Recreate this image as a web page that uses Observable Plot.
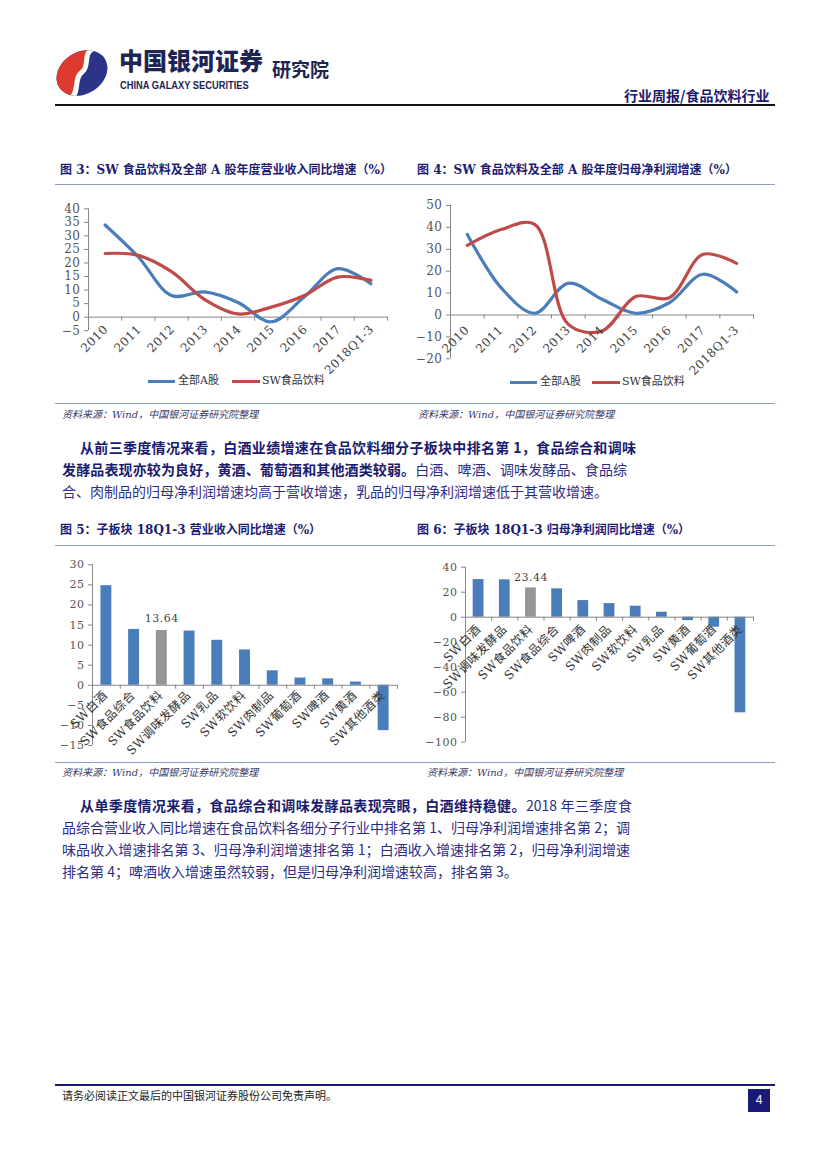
<!DOCTYPE html>
<html><head><meta charset="utf-8">
<script src="https://cdn.jsdelivr.net/npm/d3@7"></script>
<script src="https://cdn.jsdelivr.net/npm/@observablehq/plot@0.6"></script>
<style>
body{margin:0;background:#fff;}
#page{position:relative;width:827px;height:1169px;overflow:hidden;font-family:"Noto Sans CJK SC",sans-serif;background:#fff;}
.abs{position:absolute;white-space:nowrap;}
.title{position:absolute;white-space:nowrap;font-family:"DejaVu Serif","Noto Sans CJK SC",serif;font-size:12px;line-height:16px;font-weight:bold;color:#1c1c72;}
.src{position:absolute;white-space:nowrap;font-family:"DejaVu Serif","Noto Sans CJK SC",serif;font-size:10px;line-height:14px;font-style:italic;color:#3a3a66;}
.hr{position:absolute;height:0;border-top:1.6px solid #8a9dbd;}
.para{position:absolute;white-space:nowrap;font-size:14px;line-height:22px;color:#2d2d88;font-family:"Noto Sans CJK SC",sans-serif;}
.para b{color:#1a1a6e;}
.just{text-align:justify;text-align-last:justify;}
.chart{position:absolute;}
.chart svg{overflow:visible;}
.chart text{letter-spacing:0.5px;}
.leg{position:absolute;height:3px;}
.legt{position:absolute;white-space:nowrap;font-family:"DejaVu Serif","Noto Sans CJK SC",serif;font-size:11px;line-height:14px;color:#333;}
</style></head><body><div id="page">

<svg class="abs" style="left:55px;top:47px" width="54" height="52" viewBox="0 0 54 52">
  <defs>
    <clipPath id="lg"><ellipse cx="27" cy="26" rx="27" ry="21" transform="rotate(-32 27 26)"/></clipPath>
  </defs>
  <g clip-path="url(#lg)">
    <rect x="-5" y="-5" width="64" height="62" fill="#2c3487"/>
    <path d="M-5,-5 L40,-5 L40,1 C26,6 36,18 27,25 C18,32 26,42 15,54 L-5,57 Z" fill="#dc3a2f"/>
    <path d="M40,1 C26,6 36,18 27,25 C18,32 26,42 15,54" fill="none" stroke="#fff" stroke-width="5"/>
  </g>
</svg>
<div class="abs" style="left:119px;top:44px;font-size:24px;line-height:32px;font-weight:900;color:#1e2552;letter-spacing:0px">中国银河证券</div>
<div class="abs" style="left:120px;top:80px;font-family:'Liberation Sans',Arial,sans-serif;font-size:10px;line-height:12px;font-weight:bold;color:#1e2552;transform:scaleX(0.93);transform-origin:left">CHINA GALAXY SECURITIES</div>
<div class="abs" style="left:272px;top:57px;font-size:19px;line-height:24px;font-weight:bold;color:#1e2552">研究院</div>
<div class="abs" style="left:624px;top:86px;font-size:14px;line-height:18px;font-weight:bold;color:#1a1a6e">行业周报/食品饮料行业</div>
<div class="hr" style="left:55px;top:104px;width:720px;border-top:2px solid #111"></div>

<div class="title" style="left:60px;top:162px">图 3：SW 食品饮料及全部 A 股年度营业收入同比增速（%）</div>
<div class="title" style="left:417px;top:162px">图 4：SW 食品饮料及全部 A 股年度归母净利润增速（%）</div>
<div class="hr" style="left:55px;top:184px;width:720px"></div>

<div class="chart" id="c3" style="left:55px;top:195px;width:345px;height:180px"></div>
<div class="chart" id="c4" style="left:410px;top:195px;width:375px;height:185px"></div>

<div class="leg" style="left:148px;top:380px;width:27px;background:#4a7ebb"></div>
<div class="legt" style="left:178px;top:374px" id="l3a"></div>
<div class="leg" style="left:232px;top:380px;width:28px;background:#be4b48"></div>
<div class="legt" style="left:262px;top:374px" id="l3b"></div>
<div class="leg" style="left:510px;top:381px;width:27px;background:#4a7ebb"></div>
<div class="legt" style="left:540px;top:375px" id="l4a"></div>
<div class="leg" style="left:592px;top:381px;width:28px;background:#be4b48"></div>
<div class="legt" style="left:622px;top:375px" id="l4b"></div>

<div class="hr" style="left:55px;top:403px;width:720px"></div>
<div class="src" style="left:62px;top:408px">资料来源：Wind，中国银河证券研究院整理</div>
<div class="src" style="left:418px;top:408px">资料来源：Wind，中国银河证券研究院整理</div>

<div class="para just" style="left:80px;top:436px;width:556px"><b>从前三季度情况来看，白酒业绩增速在食品饮料细分子板块中排名第 1，食品综合和调味</b></div>
<div class="para just" style="left:62px;top:458px;width:565px"><b>发酵品表现亦较为良好，黄酒、葡萄酒和其他酒类较弱。</b>白酒、啤酒、调味发酵品、食品综</div>
<div class="para" style="left:62px;top:480px">合、肉制品的归母净利润增速均高于营收增速，乳品的归母净利润增速低于其营收增速。</div>

<div class="title" style="left:60px;top:522px">图 5：子板块 18Q1-3 营业收入同比增速（%）</div>
<div class="title" style="left:417px;top:522px">图 6：子板块 18Q1-3 归母净利润同比增速（%）</div>
<div class="hr" style="left:55px;top:545px;width:720px"></div>

<div class="chart" id="c5" style="left:55px;top:550px;width:350px;height:210px"></div>
<div class="chart" id="c6" style="left:410px;top:550px;width:375px;height:210px"></div>

<div class="hr" style="left:55px;top:762px;width:720px"></div>
<div class="src" style="left:62px;top:766px">资料来源：Wind，中国银河证券研究院整理</div>
<div class="src" style="left:427px;top:766px">资料来源：Wind，中国银河证券研究院整理</div>

<div class="para just" style="left:80px;top:794px;width:552px"><b>从单季度情况来看，食品综合和调味发酵品表现亮眼，白酒维持稳健。</b>2018 年三季度食</div>
<div class="para just" style="left:62px;top:816px;width:568px">品综合营业收入同比增速在食品饮料各细分子行业中排名第 1、归母净利润增速排名第 2；调</div>
<div class="para just" style="left:62px;top:838px;width:568px">味品收入增速排名第 3、归母净利润增速排名第 1；白酒收入增速排名第 2，归母净利润增速</div>
<div class="para" style="left:62px;top:860px">排名第 4；啤酒收入增速虽然较弱，但是归母净利润增速较高，排名第 3。</div>

<div class="hr" style="left:55px;top:1084px;width:720px;border-top:2px solid #1a1a6e"></div>
<div class="abs" style="left:62px;top:1090px;font-family:'DejaVu Serif','Noto Sans CJK SC',serif;font-size:11px;line-height:14px;color:#222">请务必阅读正文最后的中国银河证券股份公司免责声明。</div>
<div class="abs" style="left:748px;top:1089px;width:22px;height:23px;background:#1a1a78;color:#fff;font-family:'Liberation Sans',sans-serif;font-size:12px;line-height:23px;text-align:center">4</div>

</div>
<script>
// ---- data ----
const years = ["2010","2011","2012","2013","2014","2015","2016","2017","2018Q1-3"];
const seriesNames = ["全部A股","SW食品饮料"];
const revAllA = [34, 22.2, 8, 9.3, 5.4, -1.7, 7.5, 17.9, 12.3];
const revSW = [23.5, 22.8, 16.8, 6.5, 1.2, 3.7, 8, 14.8, 13.6];
const profitAllA = [36.8, 12.5, 0.8, 14.5, 7.2, 0.8, 5.6, 18.6, 10.5];
const profitSW = [31.8, 39, 41.4, -4.3, -7.3, 8.4, 7.9, 27.7, 23.6];
const revCats = ["SW白酒","SW食品综合","SW食品饮料","SW调味发酵品","SW乳品","SW软饮料","SW肉制品","SW葡萄酒","SW啤酒","SW黄酒","SW其他酒类"];
const revVals = [24.8, 13.9, 13.64, 13.5, 11.2, 8.8, 3.6, 1.8, 1.6, 0.8, -11.3];
const profitCats = ["SW白酒","SW调味发酵品","SW食品饮料","SW食品综合","SW啤酒","SW肉制品","SW软饮料","SW乳品","SW黄酒","SW葡萄酒","SW其他酒类"];
const profitVals = [30.1, 29.9, 23.44, 22.7, 13.3, 10.9, 8.8, 4, -2.7, -8, -76.5];
const highlight = "SW食品饮料";
const ticks3 = [-5,0,5,10,15,20,25,30,35,40];
const ticks4 = [-20,-10,0,10,20,30,40,50];
const ticks5 = [-15,-10,-5,0,5,10,15,20,25,30];
const ticks6 = [-100,-80,-60,-40,-20,0,20,40];

const BLUE = "#4a7ebb", RED = "#be4b48", GRAY = "#969696", AX = "#868686";
const fmt = d => d < 0 ? "\u2212" + (-d) : String(d);
["l3a","l4a"].forEach(id => document.getElementById(id).textContent = seriesNames[0]);
["l3b","l4b"].forEach(id => document.getElementById(id).textContent = seriesNames[1]);

function lineChart(o) {
  const n = o.cats.length;
  const rows = [];
  o.cats.forEach((c, i) => {
    rows.push({i, c, v: o.a[i], s: seriesNames[0]});
    rows.push({i, c, v: o.b[i], s: seriesNames[1]});
  });
  const ymin = o.ticks[0], ymax = o.ticks[o.ticks.length - 1];
  return Plot.plot({
    width: o.width, height: o.height,
    marginTop: o.mt, marginBottom: o.mb, marginLeft: o.ml, marginRight: o.mr,
    x: {type: "linear", domain: [0, n], axis: null},
    y: {domain: [ymin, ymax], axis: null},
    color: {domain: seriesNames, range: [BLUE, RED]},
    style: {fontFamily: "DejaVu Serif", fontSize: "12px", color: "#555", background: "transparent"},
    marks: [
      Plot.ruleY([0], {stroke: AX}),
      Plot.ruleX([0], {y1: ymin, y2: ymax, stroke: AX}),
      Plot.ruleX(d3.range(n + 1), {x: d => d, y1: () => 0, y2: () => -o.tick, stroke: AX}),
      Plot.axisY({ticks: o.ticks, tickSize: 4, tickPadding: 4, tickFormat: fmt, label: null, stroke: AX, fontSize: 12}),
      Plot.line(rows, {x: d => d.i + 0.5, y: "v", stroke: "s", z: "s", curve: "catmull-rom", strokeWidth: 3.2}),
      Plot.text(o.cats, {x: (d, i) => i + 0.5, y: () => 0, text: d => d, rotate: -45, textAnchor: "end", dx: o.dx, dy: o.dy, fontSize: 12, fill: "#444"})
    ]
  });
}

function barChart(o) {
  const n = o.cats.length;
  const rows = o.cats.map((c, i) => ({i, c, v: o.vals[i]}));
  const ymin = o.ticks[0], ymax = o.ticks[o.ticks.length - 1];
  return Plot.plot({
    width: o.width, height: o.height,
    marginTop: o.mt, marginBottom: o.mb, marginLeft: o.ml, marginRight: o.mr,
    x: {type: "linear", domain: [0, n], axis: null},
    y: {domain: [ymin, ymax], axis: null},
    style: {fontFamily: "DejaVu Serif", fontSize: "10px", color: "#555", background: "transparent"},
    marks: [
      Plot.rect(rows.filter(d => d.c !== highlight), {x1: d => d.i, x2: d => d.i + 1, y1: () => 0, y2: d => d.v, fill: BLUE, insetLeft: o.inset, insetRight: o.inset}),
      Plot.rect(rows.filter(d => d.c === highlight), {x1: d => d.i, x2: d => d.i + 1, y1: () => 0, y2: d => d.v, fill: GRAY, insetLeft: o.inset, insetRight: o.inset}),
      Plot.ruleY([0], {stroke: AX}),
      Plot.ruleX([0], {y1: ymin, y2: ymax, stroke: AX}),
      Plot.ruleX(d3.range(n + 1), {x: d => d, y1: () => 0, y2: () => -o.tick, stroke: AX}),
      Plot.axisY({ticks: o.ticks, tickSize: 4, tickPadding: 4, tickFormat: fmt, label: null, stroke: AX, fontSize: 11}),
      Plot.text(rows.filter(d => d.c === highlight), {x: d => d.i + 0.5, y: d => d.v, text: d => d.v.toFixed(2), dy: o.ldy, fontSize: 11, fill: "#444"}),
      Plot.text(rows, {x: d => d.i + 0.5, y: () => 0, text: d => d.c, rotate: -45, textAnchor: "end", dx: o.dx, dy: o.dy, fontSize: 12, fill: "#333", fontFamily: "DejaVu Serif, Noto Sans CJK SC"})
    ]
  });
}

document.getElementById("c3").appendChild(lineChart({
  cats: years, a: revAllA, b: revSW, ticks: ticks3,
  width: 345, height: 180, mt: 13.3, mb: 44.8, ml: 33, mr: 13, tick: 1.5, dx: 1, dy: 10
}));
document.getElementById("c4").appendChild(lineChart({
  cats: years, a: profitAllA, b: profitSW, ticks: ticks4,
  width: 375, height: 185, mt: 10, mb: 21.7, ml: 40, mr: 32, tick: 1.8, dx: 0, dy: 13
}));
document.getElementById("c5").appendChild(barChart({
  cats: revCats, vals: revVals, ticks: ticks5,
  width: 350, height: 210, mt: 14.3, mb: 15, ml: 37, mr: 8, tick: 1, inset: 8.4, dx: -1, dy: 8, ldy: -12
}));
document.getElementById("c6").appendChild(barChart({
  cats: profitCats, vals: profitVals, ticks: ticks6,
  width: 375, height: 210, mt: 16.7, mb: 18.3, ml: 55, mr: 32, tick: 3.2, inset: 7.7, dx: 0, dy: 10, ldy: -10
}));
</script>
</body></html>
